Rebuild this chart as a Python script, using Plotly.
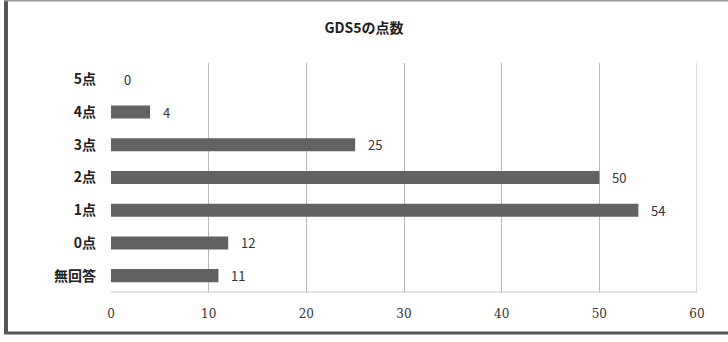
import plotly.graph_objects as go

categories = ["無回答", "0点", "1点", "2点", "3点", "4点", "5点"]
values = [11, 12, 54, 50, 25, 4, 0]
x_ticks = [0, 10, 20, 30, 40, 50, 60]
title_text = "GDS5の点数"

JP = "Noto Sans CJK JP, Noto Sans, sans-serif"
L, R, T, B = 111, 31, 63, 50
W, H = 728, 342
pw, ph = W - L - R, H - T - B

def px_x(p):
    return (p - L) / pw

def px_y(p):
    return (H - B - p) / ph

fig = go.Figure(go.Bar(
    x=values, y=categories, orientation="h",
    marker=dict(color="#626262", line=dict(width=0)),
    width=0.4,
))

for c, v in zip(categories, values):
    fig.add_annotation(x=v, y=c, text=str(v), showarrow=False,
                       xanchor="left", xshift=11,
                       font=dict(family=JP, size=13, color="#333333"))

# outer frame
fig.add_shape(type="line", xref="paper", yref="paper",
              x0=px_x(6), x1=px_x(6), y0=px_y(0), y1=px_y(334),
              line=dict(color="#555555", width=4))
fig.add_shape(type="line", xref="paper", yref="paper",
              x0=px_x(4), x1=px_x(740), y0=px_y(333), y1=px_y(333),
              line=dict(color="#555555", width=3))
fig.add_shape(type="line", xref="paper", yref="paper",
              x0=px_x(4), x1=px_x(740), y0=px_y(0.5), y1=px_y(0.5),
              line=dict(color="#999999", width=2))

fig.update_layout(
    width=W, height=H,
    margin=dict(l=L, r=R, t=T, b=B),
    paper_bgcolor="white", plot_bgcolor="white",
    showlegend=False,
    title=dict(text=title_text, x=0.5, xanchor="center", y=1 - 28 / H,
               yanchor="middle",
               font=dict(family=JP, size=14, color="#222222", weight="bold")),
    xaxis=dict(range=[0, 60], tickvals=x_ticks, showgrid=True,
               gridcolor="#b8b8b8", gridwidth=1, zeroline=False,
               showline=False, ticks="", ticklabelstandoff=13,
               tickfont=dict(family="DejaVu Serif, serif", size=12, color="#333333")),
    yaxis=dict(categoryorder="array", categoryarray=categories,
               showgrid=False, zeroline=False, ticks="",
               showline=False, ticklabelstandoff=14,
               tickfont=dict(family=JP, size=14, color="#222222", weight="bold")),
)
fig.add_shape(type="line", xref="paper", yref="paper", x0=0, x1=1, y0=0, y1=0,
              line=dict(color="#c8c8c8", width=1))
fig.add_shape(type="line", xref="x", yref="paper", x0=60, x1=60, y0=0, y1=1,
              line=dict(color="#b8b8b8", width=1))

fig.write_html("out.html")
